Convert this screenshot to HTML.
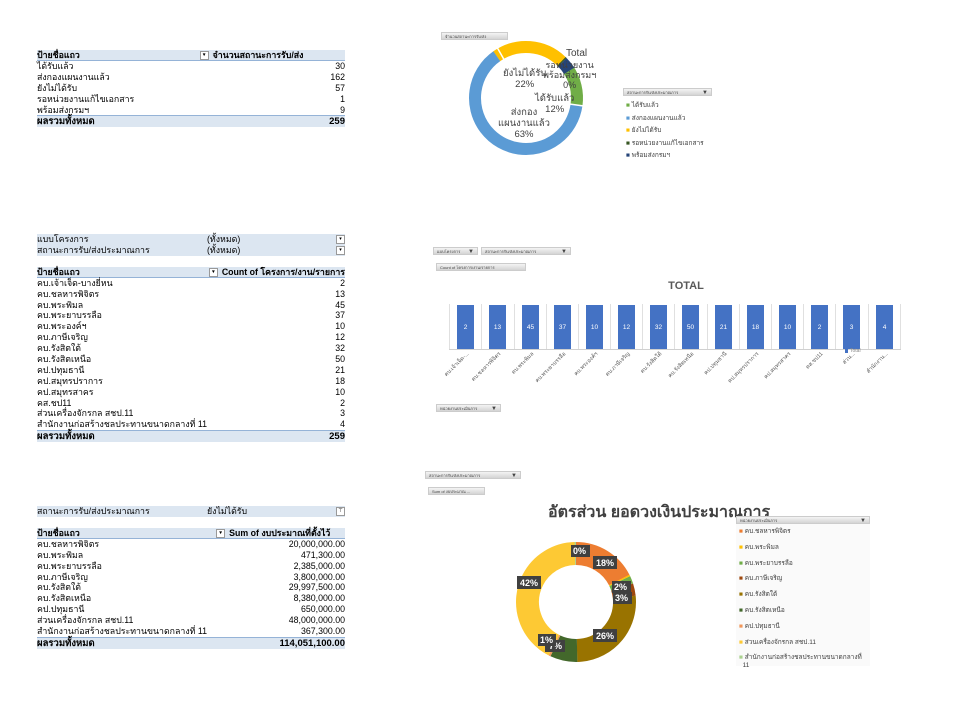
<!DOCTYPE html>
<html><head><meta charset="utf-8"><style>
body{margin:0;width:960px;height:714px;background:#fff;position:relative;overflow:hidden;font-family:"Liberation Sans","Noto Sans CJK SC",sans-serif;color:#000}
.t{position:absolute;font-size:8.8px;line-height:10.9px}
.r{display:flex;justify-content:space-between;height:10.9px;white-space:nowrap}
.h{background:#dce6f1;font-weight:bold;border-bottom:1px solid #95b3d7;height:10px;line-height:10px}
.tot{background:#dce6f1;font-weight:bold;border-top:1px solid #95b3d7;font-size:9.5px;height:11px;line-height:11px}
.dd{display:inline-block;width:7px;height:7px;border:1px solid #999;background:#fff;vertical-align:middle;margin-right:4px;font-size:5px;line-height:7px;text-align:center}
.btn{position:absolute;height:8px;background:linear-gradient(#f4f4f4,#d4d4d4);border:1px solid #ccc;font-size:4px;line-height:8px;color:#444;padding-left:3px;box-sizing:border-box}
.a{position:absolute;white-space:nowrap}
</style></head><body>

<!-- table 1 -->
<div class="t" style="left:37px;top:50px;width:308px">
<div class="r h"><span>ป้ายชื่อแถว</span><span><span class="dd">▾</span>จำนวนสถานะการรับ/ส่ง&nbsp;&nbsp;&nbsp;&nbsp;&nbsp;&nbsp;&nbsp;&nbsp;&nbsp;&nbsp;&nbsp;&nbsp;&nbsp;&nbsp;&nbsp;&nbsp;&nbsp;</span></div>
<div class="r"><span>ได้รับแล้ว</span><span>30</span></div>
<div class="r"><span>ส่งกองแผนงานแล้ว</span><span>162</span></div>
<div class="r"><span>ยังไม่ได้รับ</span><span>57</span></div>
<div class="r"><span>รอหน่วยงานแก้ไขเอกสาร</span><span>1</span></div>
<div class="r"><span>พร้อมส่งกรมฯ</span><span>9</span></div>
<div class="r tot"><span>ผลรวมทั้งหมด</span><span>259</span></div>
</div>

<!-- table 2 -->
<div class="t" style="left:37px;top:234px;width:308px">
<div class="r" style="background:#dce6f1"><span>แบบโครงการ</span><span style="width:138px;display:flex;justify-content:space-between"><span>(ทั้งหมด)</span><span class="dd" style="margin:1px 0 0">▾</span></span></div>
<div class="r" style="background:#dce6f1"><span>สถานะการรับ/ส่งประมาณการ</span><span style="width:138px;display:flex;justify-content:space-between"><span>(ทั้งหมด)</span><span class="dd" style="margin:1px 0 0">▾</span></span></div>
<div style="height:11px"></div>
<div class="r h"><span>ป้ายชื่อแถว</span><span><span class="dd">▾</span>Count of โครงการ/งาน/รายการ</span></div>
<div class="r"><span>คบ.เจ้าเจ็ด-บางยี่หน</span><span>2</span></div>
<div class="r"><span>คบ.ชลหารพิจิตร</span><span>13</span></div>
<div class="r"><span>คบ.พระพิมล</span><span>45</span></div>
<div class="r"><span>คบ.พระยาบรรลือ</span><span>37</span></div>
<div class="r"><span>คบ.พระองค์ฯ</span><span>10</span></div>
<div class="r"><span>คบ.ภาษีเจริญ</span><span>12</span></div>
<div class="r"><span>คบ.รังสิตใต้</span><span>32</span></div>
<div class="r"><span>คบ.รังสิตเหนือ</span><span>50</span></div>
<div class="r"><span>คป.ปทุมธานี</span><span>21</span></div>
<div class="r"><span>คป.สมุทรปราการ</span><span>18</span></div>
<div class="r"><span>คป.สมุทรสาคร</span><span>10</span></div>
<div class="r"><span>คส.ชป11</span><span>2</span></div>
<div class="r"><span>ส่วนเครื่องจักรกล สชป.11</span><span>3</span></div>
<div class="r"><span>สำนักงานก่อสร้างชลประทานขนาดกลางที่ 11</span><span>4</span></div>
<div class="r tot"><span>ผลรวมทั้งหมด</span><span>259</span></div>
</div>

<!-- table 3 -->
<div class="t" style="left:37px;top:506px;width:308px">
<div class="r" style="background:#dce6f1"><span>สถานะการรับ/ส่งประมาณการ</span><span style="width:138px;display:flex;justify-content:space-between"><span>ยังไม่ได้รับ</span><span class="dd" style="margin:1px 0 0">⊤</span></span></div>
<div style="height:11px"></div>
<div class="r h"><span>ป้ายชื่อแถว</span><span><span class="dd">▾</span>Sum of งบประมาณที่ตั้งไว้&nbsp;&nbsp;&nbsp;&nbsp;&nbsp;&nbsp;</span></div>
<div class="r"><span>คบ.ชลหารพิจิตร</span><span>20,000,000.00</span></div>
<div class="r"><span>คบ.พระพิมล</span><span>471,300.00</span></div>
<div class="r"><span>คบ.พระยาบรรลือ</span><span>2,385,000.00</span></div>
<div class="r"><span>คบ.ภาษีเจริญ</span><span>3,800,000.00</span></div>
<div class="r"><span>คบ.รังสิตใต้</span><span>29,997,500.00</span></div>
<div class="r"><span>คบ.รังสิตเหนือ</span><span>8,380,000.00</span></div>
<div class="r"><span>คป.ปทุมธานี</span><span>650,000.00</span></div>
<div class="r"><span>ส่วนเครื่องจักรกล สชป.11</span><span>48,000,000.00</span></div>
<div class="r"><span>สำนักงานก่อสร้างชลประทานขนาดกลางที่ 11</span><span>367,300.00</span></div>
<div class="r tot"><span>ผลรวมทั้งหมด</span><span>114,051,100.00</span></div>
</div>

<!-- chart 1 -->
<div class="btn" style="left:441px;top:32px;width:67px">จำนวนสถานะการรับ/ส่ง</div>
<svg style="position:absolute;left:0;top:0" width="960" height="714">
<g fill="none" stroke-width="12">
<circle cx="526" cy="98" r="51" stroke="#70ad47" stroke-dasharray="38.3 400" transform="rotate(-35 526 98)"/>
<circle cx="526" cy="98" r="51" stroke="#5b9bd5" stroke-dasharray="202 400" transform="rotate(8 526 98)"/>
<circle cx="526" cy="98" r="51" stroke="#ffc000" stroke-dasharray="70.3 400" transform="rotate(235 526 98)"/>
<circle cx="526" cy="98" r="51" stroke="#264478" stroke-dasharray="11.1 400" transform="rotate(-44.6 526 98)"/>
<circle cx="526" cy="98" r="51" stroke="#375623" stroke-dasharray="1.3 400" transform="rotate(-46 526 98)"/>
</g>
<g stroke="#fff" stroke-width="1.5">
<line x1="526" y1="98" x2="591" y2="107"/><line x1="526" y1="98" x2="494" y2="42"/>
</g>
<circle cx="526" cy="98" r="44.5" fill="#fff"/>
</svg>
<div class="a" style="left:566px;top:48px;font-size:10px;color:#404040">Total</div>
<div class="a" style="left:543px;top:60px;font-size:9px;color:#404040;line-height:10px;text-align:center">รอหน่วยงาน<br>พร้อมส่งกรมฯ<br>0%</div>
<div class="a" style="left:503px;top:68px;font-size:9.5px;color:#404040;line-height:11px;text-align:center">ยังไม่ได้รับ<br>22%</div>
<div class="a" style="left:535px;top:93px;font-size:9.5px;color:#404040;line-height:11px;text-align:center">ได้รับแล้ว<br>12%</div>
<div class="a" style="left:498px;top:107px;font-size:9.5px;color:#404040;line-height:11px;text-align:center">ส่งกอง<br>แผนงานแล้ว<br>63%</div>
<div class="btn" style="left:623px;top:88px;width:89px">สถานะการรับ/ส่งประมาณการ<span style="position:absolute;right:3px;font-size:6px">▼</span></div>
<div class="a" style="left:626px;top:100px;font-size:6.5px;line-height:12.5px;color:#404040">
<div><span style="color:#70ad47">■</span> ได้รับแล้ว</div>
<div><span style="color:#5b9bd5">■</span> ส่งกองแผนงานแล้ว</div>
<div><span style="color:#ffc000">■</span> ยังไม่ได้รับ</div>
<div><span style="color:#375623">■</span> รอหน่วยงานแก้ไขเอกสาร</div>
<div><span style="color:#264478">■</span> พร้อมส่งกรมฯ</div>
</div>

<!-- chart 2 bars -->
<div class="btn" style="left:433px;top:247px;width:45px">แบบโครงการ<span style="position:absolute;right:3px;font-size:6px">▼</span></div>
<div class="btn" style="left:481px;top:247px;width:90px">สถานะการรับ/ส่งประมาณการ<span style="position:absolute;right:3px;font-size:6px">▼</span></div>
<div class="btn" style="left:436px;top:263px;width:90px">Count of โครงการ/งาน/รายการ</div>
<div class="a" style="left:646px;top:280px;width:80px;text-align:center;font-size:11px;font-weight:bold;color:#595959">TOTAL</div>
<svg style="position:absolute;left:0;top:0" width="960" height="714">
<g stroke="#e0e0e0" stroke-width="1">
<line x1="449.5" y1="304" x2="449.5" y2="349"/><line x1="481.5" y1="304" x2="481.5" y2="349"/><line x1="514.5" y1="304" x2="514.5" y2="349"/><line x1="546.5" y1="304" x2="546.5" y2="349"/><line x1="578.5" y1="304" x2="578.5" y2="349"/><line x1="610.5" y1="304" x2="610.5" y2="349"/><line x1="642.5" y1="304" x2="642.5" y2="349"/><line x1="674.5" y1="304" x2="674.5" y2="349"/><line x1="707.5" y1="304" x2="707.5" y2="349"/><line x1="739.5" y1="304" x2="739.5" y2="349"/><line x1="771.5" y1="304" x2="771.5" y2="349"/><line x1="803.5" y1="304" x2="803.5" y2="349"/><line x1="835.5" y1="304" x2="835.5" y2="349"/><line x1="868.5" y1="304" x2="868.5" y2="349"/><line x1="900.5" y1="304" x2="900.5" y2="349"/>
<line x1="449" y1="349.5" x2="901" y2="349.5" stroke="#d0d0d0"/>
</g>
<g fill="#4472c4">
<rect x="457" y="305" width="17" height="44"/><rect x="489" y="305" width="17" height="44"/><rect x="522" y="305" width="17" height="44"/><rect x="554" y="305" width="17" height="44"/><rect x="586" y="305" width="17" height="44"/><rect x="618" y="305" width="17" height="44"/><rect x="650" y="305" width="17" height="44"/><rect x="682" y="305" width="17" height="44"/><rect x="715" y="305" width="17" height="44"/><rect x="747" y="305" width="17" height="44"/><rect x="779" y="305" width="17" height="44"/><rect x="811" y="305" width="17" height="44"/><rect x="843" y="305" width="17" height="44"/><rect x="876" y="305" width="17" height="44"/>
<rect x="845" y="349" width="3" height="4"/>
</g>
<g fill="#fff" font-size="6.5" text-anchor="middle" font-family="Liberation Sans">
<text x="465.5" y="329">2</text><text x="497.5" y="329">13</text><text x="530.5" y="329">45</text><text x="562.5" y="329">37</text><text x="594.5" y="329">10</text><text x="626.5" y="329">12</text><text x="658.5" y="329">32</text><text x="690.5" y="329">50</text><text x="723.5" y="329">21</text><text x="755.5" y="329">18</text><text x="787.5" y="329">10</text><text x="819.5" y="329">2</text><text x="851.5" y="329">3</text><text x="884.5" y="329">4</text>
</g>
<text x="850" y="352" font-size="5" fill="#888" font-family="Liberation Sans">Total</text>
<g fill="#595959" font-size="5.5" text-anchor="end" font-family="Liberation Sans,Noto Sans CJK SC,sans-serif">
<text transform="translate(469 354) rotate(-45)">คบ.เจ้าเจ็ด-...</text>
<text transform="translate(501 354) rotate(-45)">คบ.ชลหารพิจิตร</text>
<text transform="translate(534 354) rotate(-45)">คบ.พระพิมล</text>
<text transform="translate(566 354) rotate(-45)">คบ.พระยาบรรลือ</text>
<text transform="translate(598 354) rotate(-45)">คบ.พระองค์ฯ</text>
<text transform="translate(630 354) rotate(-45)">คบ.ภาษีเจริญ</text>
<text transform="translate(662 354) rotate(-45)">คบ.รังสิตใต้</text>
<text transform="translate(694 354) rotate(-45)">คบ.รังสิตเหนือ</text>
<text transform="translate(727 354) rotate(-45)">คป.ปทุมธานี</text>
<text transform="translate(759 354) rotate(-45)">คป.สมุทรปราการ</text>
<text transform="translate(791 354) rotate(-45)">คป.สมุทรสาคร</text>
<text transform="translate(823 354) rotate(-45)">คส.ชป11</text>
<text transform="translate(855 354) rotate(-45)">ส่วน...</text>
<text transform="translate(888 354) rotate(-45)">สำนักงาน...</text>
</g>
</svg>
<div class="btn" style="left:436px;top:404px;width:65px">หน่วยงานประเมินการ<span style="position:absolute;right:3px;font-size:6px">▼</span></div>

<!-- chart 3 -->
<div class="btn" style="left:425px;top:471px;width:96px">สถานะการรับ/ส่งประมาณการ<span style="position:absolute;right:3px;font-size:6px">▼</span></div>
<div class="btn" style="left:428px;top:487px;width:57px">Sum of งบประมาณ ...</div>
<div class="a" style="left:548px;top:500px;font-size:16px;font-weight:bold;color:#404040">อัตรส่วน ยอดวงเงินประมาณการ</div>
<svg style="position:absolute;left:0;top:0" width="960" height="714">
<g fill="none" stroke-width="23">
<circle cx="576" cy="602" r="48.5" stroke="#ed7d31" stroke-dasharray="53.3 400" transform="rotate(-90 576 602)"/>
<circle cx="576" cy="602" r="48.5" stroke="#ffc000" stroke-dasharray="1.3 400" transform="rotate(-27 576 602)"/>
<circle cx="576" cy="602" r="48.5" stroke="#70ad47" stroke-dasharray="6.35 400" transform="rotate(-25.5 576 602)"/>
<circle cx="576" cy="602" r="48.5" stroke="#9e480e" stroke-dasharray="10.2 400" transform="rotate(-18 576 602)"/>
<circle cx="576" cy="602" r="48.5" stroke="#997300" stroke-dasharray="80.2 400" transform="rotate(-6 576 602)"/>
<circle cx="576" cy="602" r="48.5" stroke="#43682b" stroke-dasharray="22.4 400" transform="rotate(88.7 576 602)"/>
<circle cx="576" cy="602" r="48.5" stroke="#f1975a" stroke-dasharray="1.7 400" transform="rotate(115.2 576 602)"/>
<circle cx="576" cy="602" r="48.5" stroke="#fdc934" stroke-dasharray="128.2 400" transform="rotate(117.2 576 602)"/>
<circle cx="576" cy="602" r="48.5" stroke="#a9d18e" stroke-dasharray="1.1 400" transform="rotate(268.7 576 602)"/>
</g>
<g font-family="Liberation Sans" font-weight="bold" font-size="9" fill="#fff">
<rect x="571" y="545" width="19" height="12" fill="#404040"/><text x="573" y="554">0%</text>
<rect x="593" y="556" width="24" height="13" fill="#404040"/><text x="596" y="566">18%</text>
<rect x="612" y="581" width="19" height="12" fill="#404040"/><text x="614" y="590">2%</text>
<rect x="613" y="592" width="19" height="12" fill="#404040"/><text x="615" y="601">3%</text>
<rect x="593" y="629" width="24" height="13" fill="#404040"/><text x="596" y="639">26%</text>
<rect x="517" y="576" width="24" height="13" fill="#404040"/><text x="520" y="586">42%</text>
<rect x="545" y="640" width="20" height="12" fill="#404040"/><text x="549" y="649">7%</text>
<rect x="538" y="634" width="18" height="12" fill="#404040"/><text x="540" y="643">1%</text>
</g>
</svg>
<div class="a" style="left:736px;top:516px;width:134px;height:150px;background:#fafafa"></div>
<div class="btn" style="left:736px;top:516px;width:134px">หน่วยงานประเมินการ<span style="position:absolute;right:3px;font-size:6px">▼</span></div>
<div class="a" style="left:739px;top:524px;font-size:6.5px;line-height:15.8px;color:#404040">
<div><span style="color:#ed7d31">■</span> คบ.ชลหารพิจิตร</div>
<div><span style="color:#ffc000">■</span> คบ.พระพิมล</div>
<div><span style="color:#70ad47">■</span> คบ.พระยาบรรลือ</div>
<div><span style="color:#9e480e">■</span> คบ.ภาษีเจริญ</div>
<div><span style="color:#997300">■</span> คบ.รังสิตใต้</div>
<div><span style="color:#43682b">■</span> คบ.รังสิตเหนือ</div>
<div><span style="color:#f1975a">■</span> คป.ปทุมธานี</div>
<div><span style="color:#fdc934">■</span> ส่วนเครื่องจักรกล สชป.11</div>
<div style="line-height:8px;margin-top:4px"><span style="color:#a9d18e">■</span> สำนักงานก่อสร้างชลประทานขนาดกลางที่<br>&nbsp;&nbsp;11</div>
</div>
</body></html>
